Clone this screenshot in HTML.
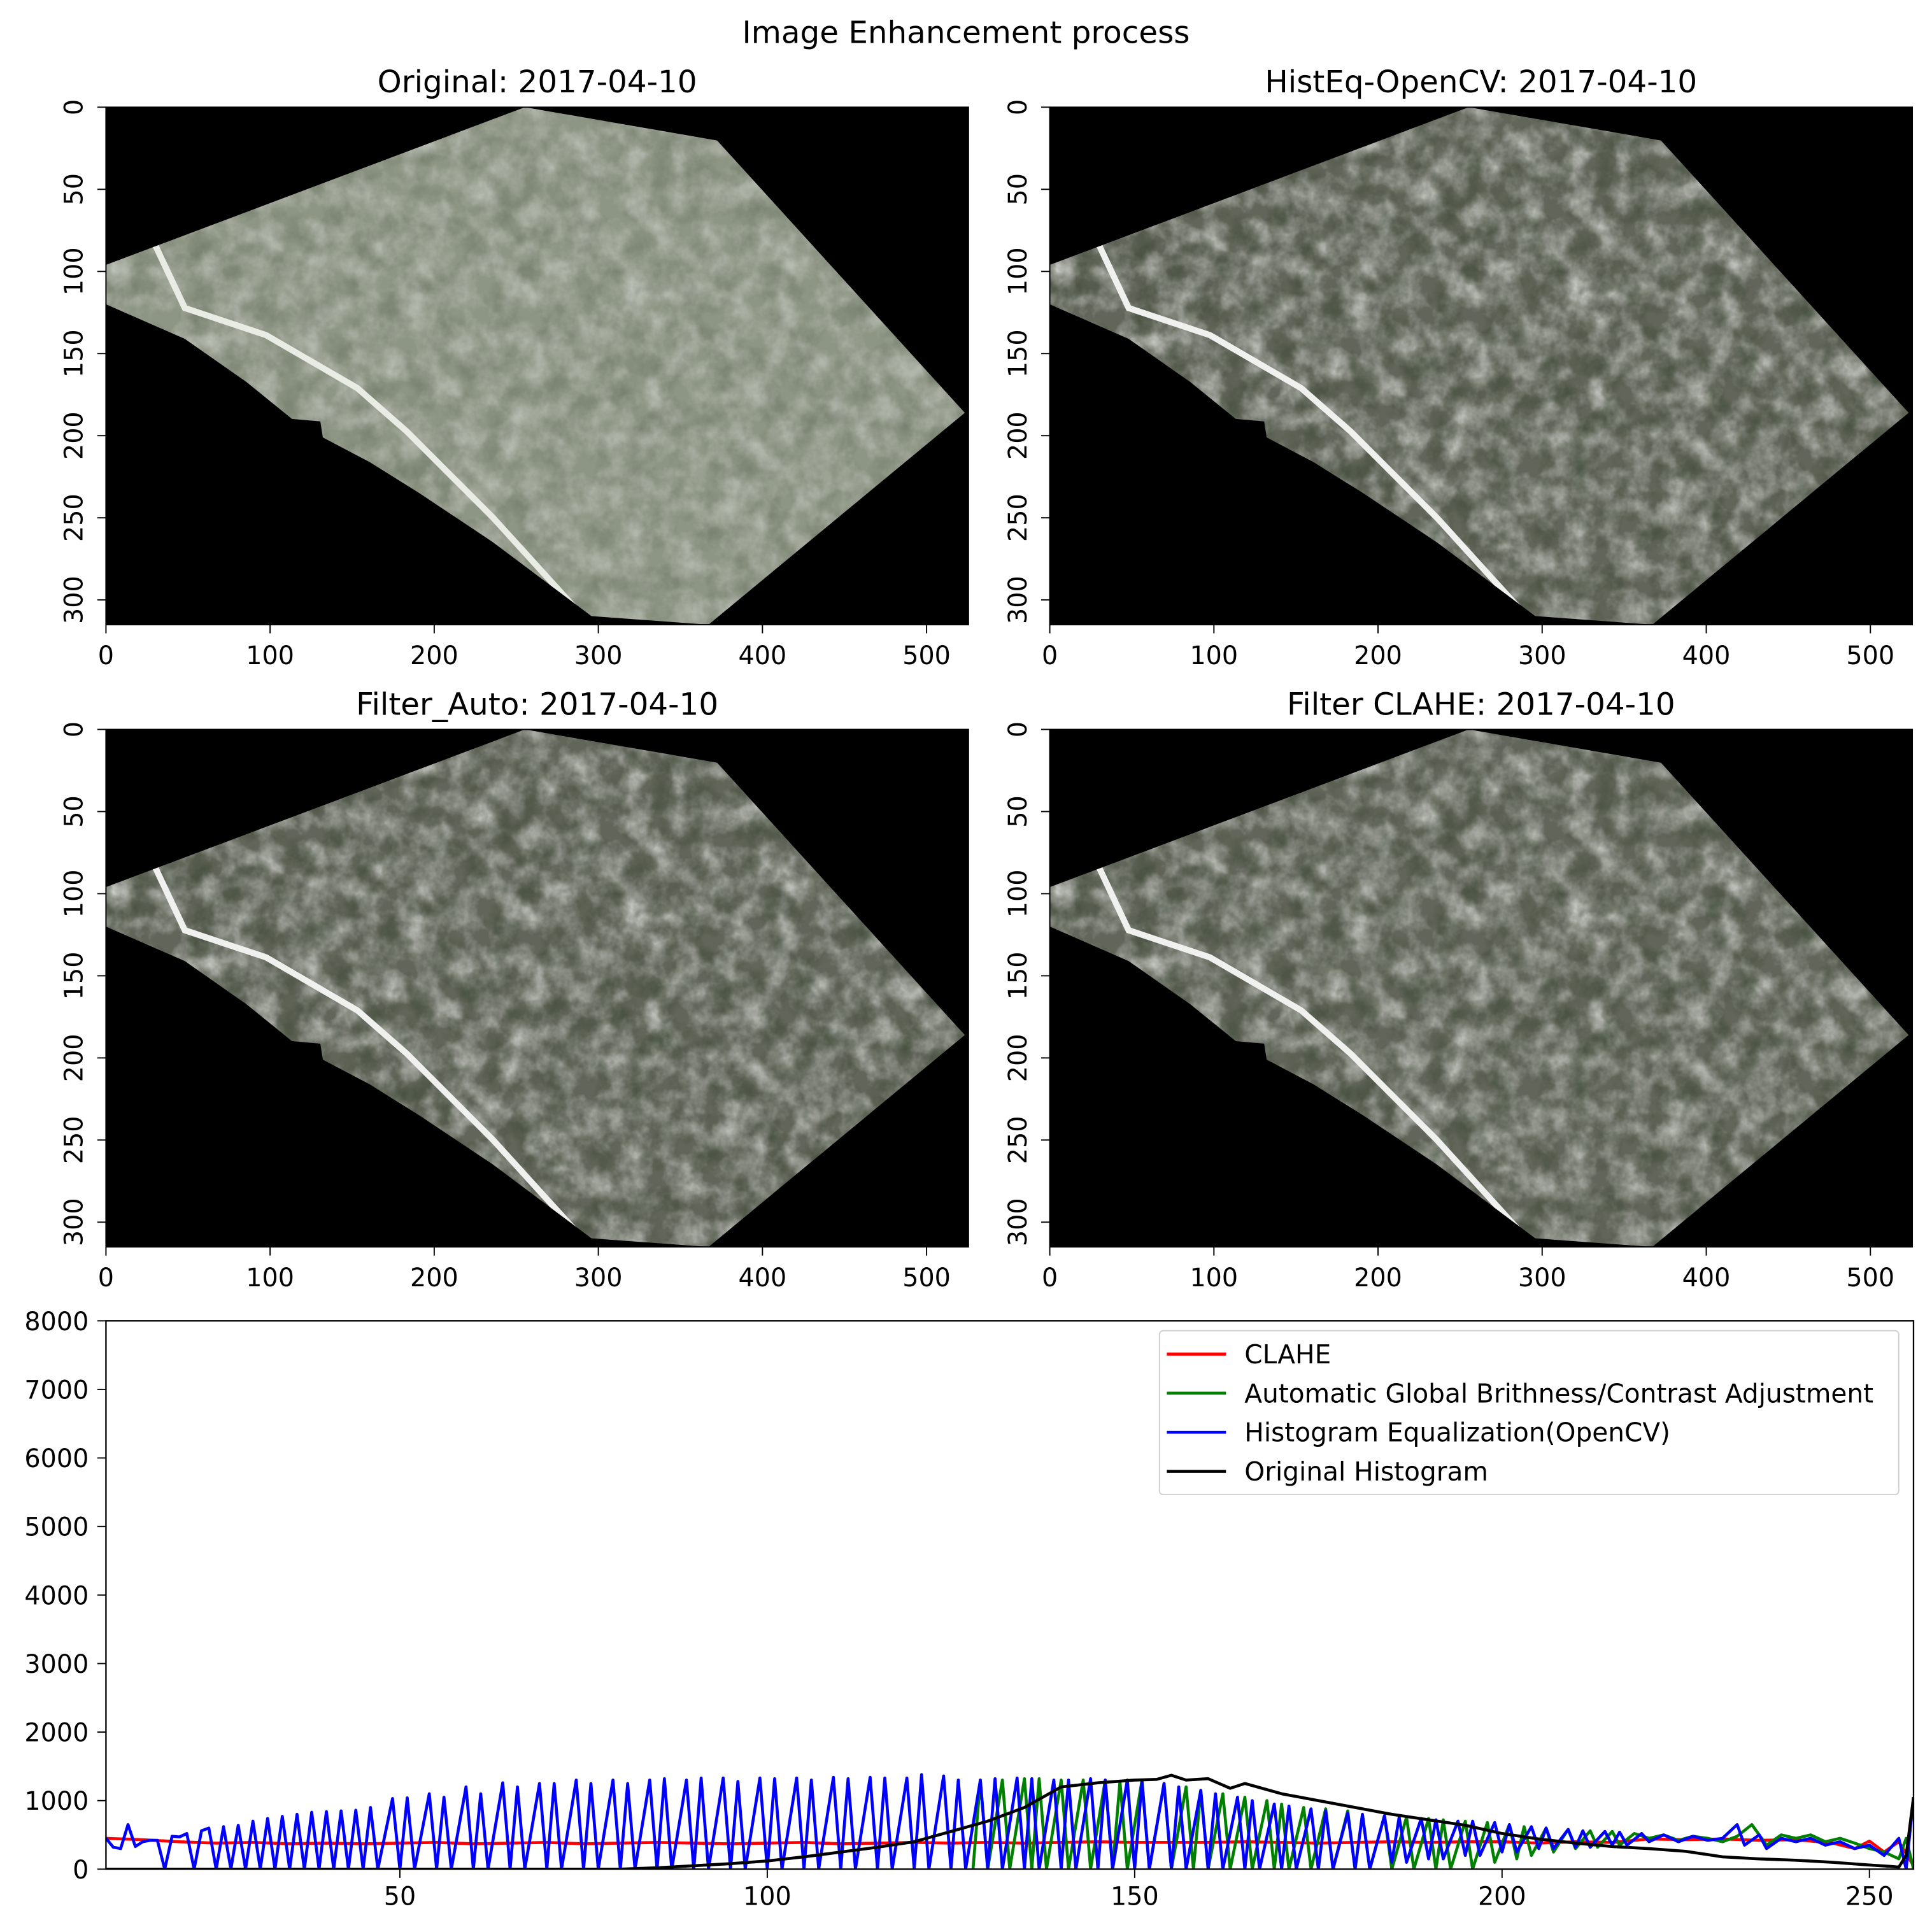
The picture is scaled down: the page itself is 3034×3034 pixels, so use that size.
<!DOCTYPE html>
<html><head><meta charset="utf-8"><style>
html,body{margin:0;padding:0;background:#fff}
svg{display:block}
text{font-family:"DejaVu Sans","Liberation Sans",sans-serif;fill:#000}
</style></head><body>
<svg id="fig" width="3034" height="3034" viewBox="0 0 1568 1568" xmlns="http://www.w3.org/2000/svg">
<defs>
<filter id="tex" x="0" y="0" width="100%" height="100%">
<feTurbulence type="fractalNoise" baseFrequency="0.05" numOctaves="4" seed="3"/>
<feColorMatrix type="matrix" values="0 0 0 0 1  0 0 0 0 1  0 0 0 0 1  1.6 0 0 0 -0.55"/>
</filter>
<filter id="tex2" x="0" y="0" width="100%" height="100%">
<feTurbulence type="fractalNoise" baseFrequency="0.045" numOctaves="4" seed="9"/>
<feColorMatrix type="matrix" values="0 0 0 0 0.05  0 0 0 0 0.07  0 0 0 0 0.04  1.8 0 0 0 -0.75"/>
</filter>
</defs>
<text x="784" y="35" font-size="25" text-anchor="middle">Image Enhancement process</text>
<g id="panels"></g>
<g id="chart"></g>
</svg>
<script>
// ---- histogram data ----
const xTicks = [50, 100, 150, 200, 250];
const yTicks = [0, 1000, 2000, 3000, 4000, 5000, 6000, 7000, 8000];
const legendLabels = ["CLAHE", "Automatic Global Brithness/Contrast Adjustment", "Histogram Equalization(OpenCV)", "Original Histogram"];
const redX = [10,15,20,25,30,35,40,45,50,55,60,65,70,75,80,85,90,95,100,105,110,115,120,125,130,135,140,145,150,155,160,165,170,175,180,185,190,195,200,205,210,215,220,225,230,235,240,245,248,250,252,254,256];
const redY = [450,430,400,380,390,370,380,370,380,390,370,380,390,370,380,390,380,370,380,390,370,380,390,380,390,380,390,400,390,390,390,400,390,380,390,400,390,400,400,380,400,390,440,430,440,420,430,380,300,410,250,400,50];
const greenX = [128,129,130,132,133,135,136,137,138,140,141,143,144,146,147,148,149,151,152,154,155,157,158,159,160,162,163,165,166,168,169,170,171,173,174,176,177,179,180,181,182,184,185,187,188,190,191,192,193,195,196,198,199,201,202,203,204,206,207,209,210,212,213,215,216,218,220,222,224,226,228,230,232,234,236,238,240,242,244,246,248,250,252,254,255,256];
const greenY = [0,1300,0,1300,0,1320,0,1320,0,1300,0,1300,0,1300,0,1280,0,1300,0,1250,0,1200,0,1150,0,1100,0,1050,0,1000,0,950,0,900,0,880,0,850,0,800,0,780,0,760,0,740,0,720,0,700,0,680,100,650,150,620,200,600,250,580,300,560,320,550,350,520,450,500,420,480,450,400,480,650,350,500,450,500,400,450,380,300,250,150,450,0];
const blueX = [10,11,12,13,14,15,16,17,18,19,20,21,22,23,24,25,26,27,28,29,30,31,32,33,34,35,36,37,38,39,40,41,42,43,44,45,46,47,49,50,51,52,54,55,56,57,59,60,61,62,64,65,66,67,69,70,71,72,74,75,76,77,79,80,81,82,84,85,86,87,89,90,91,92,94,95,96,97,99,100,101,102,104,105,106,107,109,110,111,112,114,115,116,117,119,120,121,122,124,125,126,127,129,130,131,132,134,135,136,137,139,140,141,142,144,145,146,147,149,150,151,152,154,155,156,157,159,160,161,162,164,165,166,167,169,170,171,172,174,175,176,177,179,180,181,182,184,185,186,187,189,190,191,192,194,195,196,197,199,200,201,202,204,205,206,207,209,210,211,212,214,215,216,217,219,220,222,224,226,228,230,232,233,235,236,238,240,242,244,246,248,250,252,254,255,256];
const blueY = [450,320,300,650,330,400,420,420,0,480,470,520,0,560,600,0,620,0,640,0,700,0,740,0,770,0,800,0,830,0,840,0,850,0,860,0,900,0,1030,0,1040,0,1100,0,1050,0,1200,0,1100,0,1260,0,1200,0,1250,0,1250,0,1300,0,1250,0,1300,0,1250,0,1300,0,1320,0,1300,0,1330,0,1330,0,1280,0,1330,0,1320,0,1330,0,1300,0,1340,0,1320,0,1340,0,1330,0,1330,0,1380,0,1360,0,1300,0,1300,0,1320,0,1330,0,1320,0,1300,0,1300,0,1320,0,1300,0,1300,0,1280,0,1250,0,1200,0,1150,0,1100,0,1050,0,1000,0,950,0,920,0,880,0,850,0,820,0,800,0,780,100,760,100,740,150,720,150,700,200,700,200,680,250,650,250,620,300,600,300,580,320,560,320,550,350,540,350,520,400,500,400,480,420,450,650,350,500,300,450,400,450,350,400,300,350,200,450,0,1050];
const blackX = [10,80,85,90,95,100,105,110,115,120,125,130,135,140,145,150,153,155,157,160,163,165,170,175,180,185,190,195,200,205,210,215,220,225,230,235,240,245,250,253,254,255,256];
const blackY = [0,0,20,50,80,120,180,250,320,400,550,700,900,1200,1260,1300,1310,1370,1300,1320,1180,1250,1100,1000,900,800,720,640,520,440,380,330,300,260,180,150,130,100,60,40,30,200,1050];

const NS = "http://www.w3.org/2000/svg";
function mk(tag, attrs, parent){const e=document.createElementNS(NS,tag);for(const k in attrs)e.setAttribute(k,attrs[k]);parent.appendChild(e);return e;}

// ---- image panels ----
const panels = document.getElementById('panels');
const panelDefs = [
 {title:"Original: 2017-04-10", x:86, y:87, orig:true, name:"original"},
 {title:"HistEq-OpenCV: 2017-04-10", x:852, y:87, orig:false, name:"histeq"},
 {title:"Filter_Auto: 2017-04-10", x:86, y:592, orig:false, name:"filter-auto"},
 {title:"Filter CLAHE: 2017-04-10", x:852, y:592, orig:false, name:"filter-clahe"}
];
const shape = [[0,128],[340,0],[496,27],[697,248],[489,420],[394,413],[314,353],[254,313],[214,288],[176,268],[174,255],[151,253],[114,223],[64,188],[0,160]];
const road = [[40,112],[64,163],[130,185],[204,228],[244,263],[314,333],[384,410]];
panelDefs.forEach((p,i)=>{
  const g = mk('g',{transform:`translate(${p.x},${p.y})`},panels);
  
  
  const W=700,H=420;
  const bg = mk('rect',{x:0,y:0,width:W,height:H,fill:'#000'},g);
  
  
  mk('clipPath',{id:'cp'+i},g);
  const cp=g.lastChild;
  mk('polygon',{points:shape.map(q=>q.join(',')).join(' ')},cp);
  const pg = mk('g',{'clip-path':`url(#cp${i})`},g);
  
  
  mk('rect',{x:0,y:0,width:W,height:H,fill:p.orig?'#8d9584':'#62665a'},pg);
  mk('rect',{x:0,y:0,width:W,height:H,filter:'url(#tex)',opacity:p.orig?0.45:0.7},pg);
  mk('rect',{x:0,y:0,width:W,height:H,filter:'url(#tex2)',opacity:p.orig?0.35:0.95},pg);
  mk('polyline',{points:road.map(q=>q.join(',')).join(' '),fill:'none',stroke:p.orig?'#e8ece4':'#f0f0ee','stroke-width':5},pg);
  mk('rect',{x:0,y:0,width:W,height:H,fill:'none',stroke:'#000','stroke-width':1},g);
  const t=mk('text',{x:W/2,y:-12,'font-size':25,'text-anchor':'middle'},g);
  t.textContent=p.title;
  
  
  [0,100,200,300,400,500].forEach(v=>{
    const px=v*1.332;
    mk('line',{x1:px,y1:H,x2:px,y2:H+7,stroke:'#000'},g);
    const tt=mk('text',{x:px,y:H+32,'font-size':20.5,'text-anchor':'middle'},g);
    tt.textContent=v;
    
    
  });
  [0,50,100,150,200,250,300].forEach(v=>{
    const py=v*1.333;
    mk('line',{x1:-7,y1:py,x2:0,y2:py,stroke:'#000'},g);
    const tt=mk('text',{x:0,y:0,'font-size':20.5,'text-anchor':'middle',transform:`translate(-19,${py}) rotate(-90)`},g);
    tt.textContent=v;
    
    
  });
});

// ---- histogram chart ----
const chart=document.getElementById('chart');
const L=86,R=1553,T=1072,B=1517, xmin=10, xmax=256, ymax=8000;
const sx=v=>L+(v-xmin)/(xmax-xmin)*(R-L);
const sy=v=>B-v/ymax*(B-T);
const cg=mk('g',{},chart);


mk('clipPath',{id:'plotclip'},cg);
mk('rect',{x:L,y:T,width:R-L,height:B-T},cg.lastChild);
const series=[[redX,redY,'#ff0000','clahe-line'],[greenX,greenY,'#008000','auto-line'],[blueX,blueY,'#0000ff','histeq-line'],[blackX,blackY,'#000000','original-line']];
series.forEach(s=>{
  const pl=mk('polyline',{points:s[0].map((x,i)=>sx(x)+','+sy(s[1][i])).join(' '),fill:'none',stroke:s[2],'stroke-width':2.4,'stroke-linejoin':'round','clip-path':'url(#plotclip)'},cg);
  
  
});
mk('rect',{x:L,y:T,width:R-L,height:B-T,fill:'none',stroke:'#000','stroke-width':1.2},cg);
xTicks.forEach(v=>{
  mk('line',{x1:sx(v),y1:B,x2:sx(v),y2:B+7,stroke:'#000'},cg);
  const t=mk('text',{x:sx(v),y:B+29,'font-size':20.5,'text-anchor':'middle'},cg);
  t.textContent=v;
  
  
});
yTicks.forEach(v=>{
  mk('line',{x1:L-7,y1:sy(v),x2:L,y2:sy(v),stroke:'#000'},cg);
  const t=mk('text',{x:L-14,y:sy(v)+7.5,'font-size':20.5,'text-anchor':'end'},cg);
  t.textContent=v;
  
  
});
const lg=mk('g',{},cg);


mk('rect',{x:941,y:1080,width:600,height:133,rx:3,fill:'#fff',stroke:'#d0d0d0','stroke-width':1},lg);
legendLabels.forEach((lab,i)=>{
  const y=1099+i*31.7;
  mk('line',{x1:947,y1:y,x2:995,y2:y,stroke:series[i][2],'stroke-width':2.4},lg);
  const t=mk('text',{x:1010,y:y+7.5,'font-size':21},lg);
  t.textContent=lab;
  
  
});
</script>
</body></html>
